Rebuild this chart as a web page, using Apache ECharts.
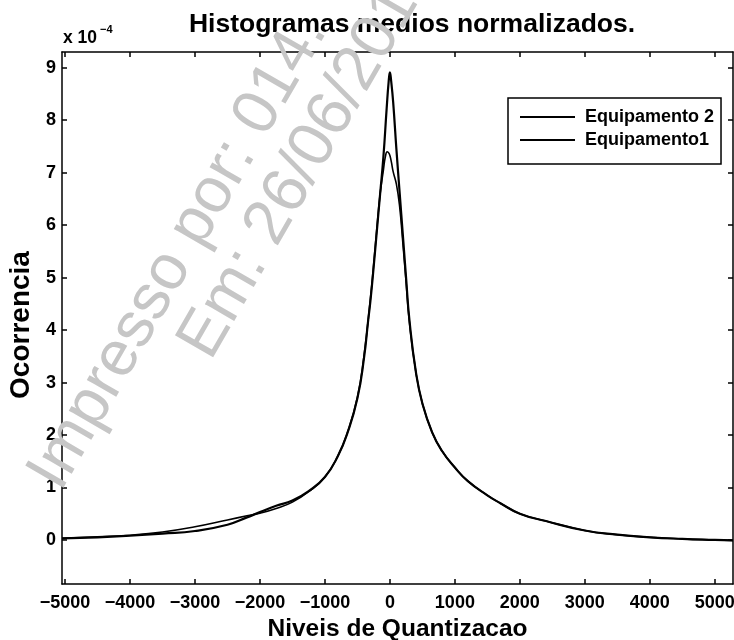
<!DOCTYPE html>
<html><head><meta charset="utf-8">
<script src="https://cdn.jsdelivr.net/npm/echarts@6/dist/echarts.min.js"></script>
<style>html,body{margin:0;padding:0;background:#fff}#c{width:734px;height:640px}</style>
</head><body><div id="c"></div>
<script>
// ---- data (values in units of 1e-4, as on the axis) ----
const titleText = 'Histogramas medios normalizados.';
const xName = 'Niveis de Quantizacao';
const yName = 'Ocorrencia';
const yMultiplier = 'x 10';
const yExponent = '\u22124';
const seriesNames = ['Equipamento 2', 'Equipamento1'];
const xTicks = [-5000, -4000, -3000, -2000, -1000, 0, 1000, 2000, 3000, 4000, 5000];
const yTicks = [0, 1, 2, 3, 4, 5, 6, 7, 8, 9];
const xLimits = [-5046, 5280];
const yLimits = [-0.84, 9.3];

const equip2X = [-5046, -4500, -4000, -3500, -3000, -2500, -2200, -2000, -1750, -1500, -1250, -1000, -800, -650, -500, -400, -333, -300, -250, -200, -150, -100, -50, -20, 0, 20, 50, 100, 150, 200, 250, 300, 400, 500, 650, 800, 1000, 1200, 1500, 1700, 2000, 2400, 3000, 3500, 4000, 4500, 5000, 5280];
const equip2Y = [0.03, 0.05, 0.08, 0.12, 0.17, 0.29, 0.43, 0.53, 0.65, 0.75, 0.93, 1.2, 1.6, 2.05, 2.7, 3.45, 4.2, 4.55, 5.2, 5.9, 6.6, 7.3, 8.22, 8.72, 8.91, 8.74, 8.35, 7.45, 6.62, 5.8, 4.98, 4.2, 3.2, 2.6, 2.05, 1.7, 1.38, 1.12, 0.85, 0.70, 0.5, 0.36, 0.18, 0.10, 0.05, 0.02, 0.0, -0.01];

const equip1X = [-5046, -4500, -4000, -3500, -3000, -2500, -2200, -2000, -1750, -1500, -1250, -1000, -800, -650, -500, -400, -300, -250, -200, -150, -100, -70, -41, -10, 20, 50, 100, 150, 200, 250, 300, 400, 500, 650, 800, 1000, 1200, 1500, 1700, 2000, 2400, 3000, 3500, 4000, 4500, 5000, 5280];
const equip1Y = [0.03, 0.06, 0.09, 0.15, 0.25, 0.38, 0.46, 0.51, 0.60, 0.72, 0.92, 1.2, 1.6, 2.06, 2.72, 3.5, 4.6, 5.25, 5.95, 6.6, 7.05, 7.3, 7.40, 7.36, 7.22, 7.02, 6.78, 6.35, 5.65, 4.9, 4.15, 3.2, 2.6, 2.05, 1.7, 1.38, 1.12, 0.85, 0.70, 0.5, 0.36, 0.18, 0.10, 0.05, 0.02, 0.0, -0.01];

const watermarkLines = ['Impresso por: 014.', 'Em: 26/06/201'];

// ---- chart ----
const FONT = '"Liberation Sans", Arial, Helvetica, sans-serif';
const chart = echarts.init(document.getElementById('c'), null, {renderer: 'canvas'});
const pairs = (xs, ys) => xs.map((x, i) => [x, ys[i]]);
const fmtX = v => (v < 0 ? '\u2212' : '') + Math.abs(v);
const axisLineStyle = {color: '#000', width: 1.5};

const frameX = (pos, show) => ({
  type: 'value', position: pos, min: xLimits[0], max: xLimits[1],
  axisLine: {show: true, onZero: false, lineStyle: axisLineStyle},
  axisTick: {show: true, inside: true, length: 5, lineStyle: axisLineStyle, customValues: xTicks},
  axisLabel: {show: show, customValues: xTicks, formatter: fmtX, margin: 10,
    color: '#000', fontFamily: FONT, fontWeight: 'bold', fontSize: 18},
  splitLine: {show: false}
});
const frameY = (pos, show) => ({
  type: 'value', position: pos, min: yLimits[0], max: yLimits[1],
  axisLine: {show: true, onZero: false, lineStyle: axisLineStyle},
  axisTick: {show: true, inside: true, length: 5, lineStyle: axisLineStyle, customValues: yTicks},
  axisLabel: {show: show, customValues: yTicks, margin: 6,
    color: '#000', fontFamily: FONT, fontWeight: 'bold', fontSize: 18},
  splitLine: {show: false}
});

const xBottom = Object.assign(frameX('bottom', true), {
  name: xName, nameLocation: 'middle', nameGap: 33,
  nameTextStyle: {color: '#000', fontFamily: FONT, fontWeight: 'bold', fontSize: 24.5}
});

const option = {
  backgroundColor: '#fff',
  animation: false,
  title: {
    text: titleText, left: 412, top: 11, textAlign: 'center', padding: 0,
    textStyle: {color: '#000', fontFamily: FONT, fontWeight: 'bold', fontSize: 26.5}
  },
  grid: {left: 62, top: 52, right: 1, bottom: 56, containLabel: false, outerBoundsMode: 'none'},
  xAxis: [xBottom, frameX('top', false)],
  yAxis: [frameY('left', true), frameY('right', false)],
  legend: {
    data: seriesNames, orient: 'vertical', left: 508, top: 98, icon: 'rect',
    padding: [10, 7, 15, 12], itemGap: 5, itemWidth: 55, itemHeight: 2,
    backgroundColor: '#fff', borderColor: '#000', borderWidth: 1.5, borderRadius: 0,
    textStyle: {color: '#000', fontFamily: FONT, fontWeight: 'bold', fontSize: 18,
      lineHeight: 16, padding: [0, 0, 0, 5]}
  },
  series: [
    {name: seriesNames[0], type: 'line', data: pairs(equip2X, equip2Y),
     symbol: 'none', smooth: 0.5,
     lineStyle: {color: '#000', width: 2.2}, itemStyle: {color: '#000'}, z: 3},
    {name: seriesNames[1], type: 'line', data: pairs(equip1X, equip1Y),
     symbol: 'none', smooth: 0.5,
     lineStyle: {color: '#000', width: 1.6}, itemStyle: {color: '#000'}, z: 3}
  ],
  graphic: [
    {type: 'text', x: 21, y: 325, rotation: Math.PI / 2, z: 10,
     style: {text: yName, fill: '#000', fontFamily: FONT, fontWeight: 'bold', fontSize: 28,
       textAlign: 'center', textVerticalAlign: 'middle'}},
    {type: 'text', left: 63, top: 29, z: 10,
     style: {text: yMultiplier, fill: '#000', fontFamily: FONT, fontWeight: 'bold', fontSize: 17.5}},
    {type: 'text', left: 100, top: 24, z: 10,
     style: {text: yExponent, fill: '#000', fontFamily: FONT, fontWeight: 'bold', fontSize: 11}},
    {type: 'text', x: 73, y: 500, rotation: 60 * Math.PI / 180, z: 100, silent: true,
     style: {text: watermarkLines[0], fill: '#c6c6c6', fontFamily: FONT, fontSize: 64,
       textAlign: 'left', textVerticalAlign: 'bottom'}},
    {type: 'text', x: 223, y: 369, rotation: 60 * Math.PI / 180, z: 100, silent: true,
     style: {text: watermarkLines[1], fill: '#c6c6c6', fontFamily: FONT, fontSize: 64,
       textAlign: 'left', textVerticalAlign: 'bottom'}}
  ]
};
chart.setOption(option);
</script>
</body></html>
